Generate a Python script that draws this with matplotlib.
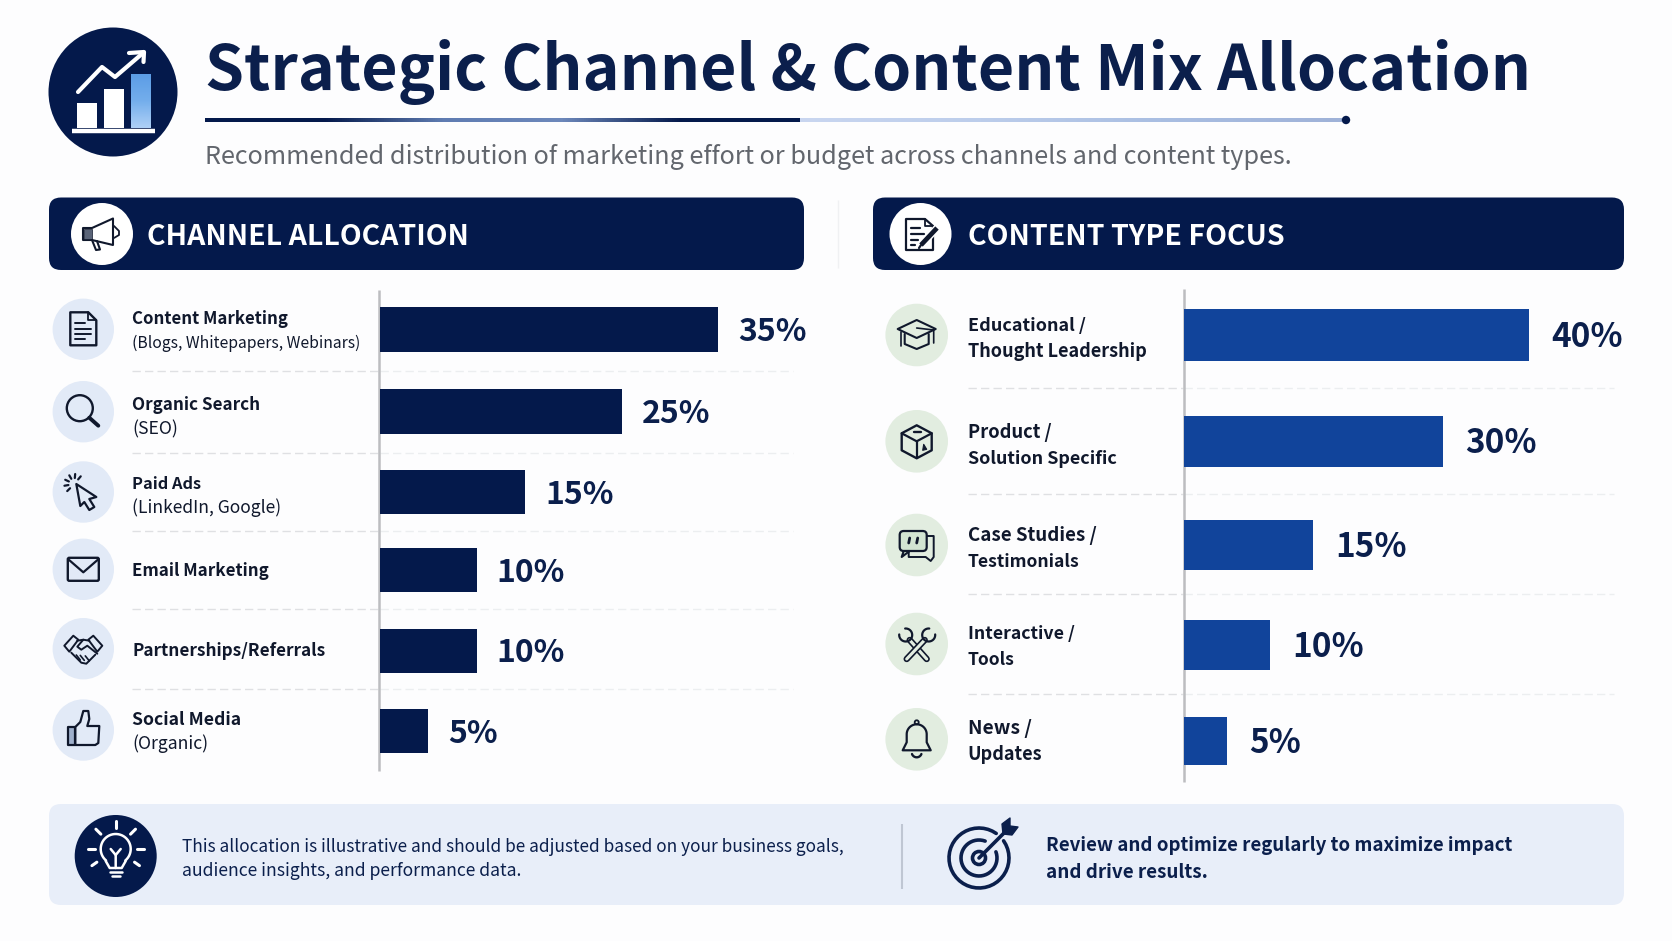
import numpy as np
import matplotlib
matplotlib.use("Agg")
import matplotlib.pyplot as plt
from matplotlib.patches import Circle, FancyBboxPatch, Polygon, Rectangle
from matplotlib.colors import LinearSegmentedColormap

# Data
channel_names = ["Content Marketing", "Organic Search", "Paid Ads", "Email Marketing",
                 "Partnerships/Referrals", "Social Media"]
channel_notes = ["(Blogs, Whitepapers, Webinars)", "(SEO)", "(LinkedIn, Google)", "", "", "(Organic)"]
channel_values = [35, 25, 15, 10, 10, 5]

content_line1 = ["Educational /", "Product /", "Case Studies /", "Interactive /", "News /"]
content_line2 = ["Thought Leadership", "Solution Specific", "Testimonials", "Tools", "Updates"]
content_values = [40, 30, 15, 10, 5]

TITLE = "Strategic Channel & Content Mix Allocation"
SUBTITLE = "Recommended distribution of marketing effort or budget across channels and content types."
NOTE_1 = "This allocation is illustrative and should be adjusted based on your business goals,"
NOTE_2 = "audience insights, and performance data."
TIP_1 = "Review and optimize regularly to maximize impact"
TIP_2 = "and drive results."

# Layout, in figure pixels
W, H = 1672, 941
channel_rows = [329.5, 411, 492, 570, 650.5, 731]
content_rows = [334.7, 441, 545, 645, 740.5]

NAVY = "#04194b"
INK = "#0b1f4c"
BLUE = "#11449b"
DARK = "#10182c"
plt.rcParams["font.family"] = ["Noto Sans CJK JP", "DejaVu Sans"]

fig = plt.figure(figsize=(W / 100, H / 100), dpi=100, facecolor="#fdfdfe")
ax = fig.add_axes([0, 0, 1, 1])
ax.set_xlim(0, W)
ax.set_ylim(H, 0)
ax.axis("off")
renderer = fig.canvas.get_renderer()


def label(x, base, s, width=None, size=14, weight="bold", color=DARK):
    t = ax.text(x, base, s, fontsize=size, fontweight=weight, color=color,
                va="baseline", ha="left", zorder=6)
    if width:
        t.set_fontsize(size * width / t.get_window_extent(renderer).width)
    return t


def line(pts, ox=0, oy=0, color=DARK, lw=1.5, z=5, cap="round"):
    p = np.array(pts, float)
    ax.plot(p[:, 0] + ox, p[:, 1] + oy, color=color, lw=lw, zorder=z,
            solid_capstyle=cap, solid_joinstyle="round")


def dashes(x0, x1, y, color):
    line([(x0, y), (x1, y)], color=color, lw=1, cap="butt", z=1.5)
    ax.lines[-1].set_dashes((6, 3))


def arc(cx, cy, r, a0, a1, n=40):
    a = np.radians(np.linspace(a0, a1, n))
    return np.column_stack([cx + r * np.cos(a), cy + r * np.sin(a)])


def ring(cx, cy, r, color=DARK, lw=1.5, face="none", z=5):
    ax.add_patch(Circle((cx, cy), r, fc=face, ec=color, lw=lw, zorder=z))


def poly(pts, ox=0, oy=0, fc="none", ec=DARK, lw=1.5, z=5):
    p = np.array(pts, float) + [ox, oy]
    ax.add_patch(Polygon(p, closed=True, fc=fc, ec=ec, lw=lw, zorder=z, joinstyle="round"))


def panel(x0, y0, x1, y1, r, color):
    ax.add_patch(FancyBboxPatch((x0 + r, y0 + r), x1 - x0 - 2 * r, y1 - y0 - 2 * r,
                                boxstyle=f"round,pad={r},rounding_size={r}",
                                fc=color, ec="none", zorder=1))


# Row icons
def icon_doc(x, y):
    poly([(-13, -17), (5, -17), (13, -9), (13, 16), (-13, 16)], x, y, lw=1.7)
    line([(5, -17), (5, -9), (13, -9)], x, y, lw=1.3)
    for dy, x1 in [(-6, 2), (0, 8), (5, 8), (10, 2)]:
        line([(-8, dy), (x1, dy)], x, y, lw=1.4)


def icon_search(x, y):
    ring(x - 3.5, y - 3.5, 13, lw=1.7)
    line([(6, 6), (15, 14)], x, y, lw=2.8)


def icon_cursor(x, y):
    poly([(-7, -8), (13, 5), (6, 7), (11, 15), (6, 18), (1, 10), (-3, 14)], x, y, lw=1.6)
    for a in (135, 170, 205, 240, 275, 310):
        s = arc(-9, -8, 6, a, a, 1)[0]
        e = arc(-9, -8, 10, a, a, 1)[0]
        line([s, e], x, y, lw=1.6)


def icon_mail(x, y):
    ax.add_patch(FancyBboxPatch((x - 15.5, y - 11.5), 31, 23, boxstyle="round,pad=0,rounding_size=1.5",
                                fc="none", ec=DARK, lw=1.7, zorder=5))
    line([(-15, -10), (0, 3), (15, -10)], x, y, lw=1.6)


def icon_hands(x, y):
    poly([(-19, -3), (-10, -13), (-5, -9), (-14, 3)], x, y, lw=1.4)
    poly([(19, -3), (10, -13), (5, -9), (14, 3)], x, y, lw=1.4)
    line([(-6, -8), (0, -9), (6, -8)], x, y, lw=1.4)
    line([(0, -9), (-6, -2), (-2, 1), (4, -3), (14, 5)], x, y, lw=1.4)
    line([(-12, 4), (-2, 14), (3, 15), (12, 6)], x, y, lw=1.4)
    for dx in (-7, -3, 2):
        line([(dx, 7 + dx * 0.1), (dx + 4, 12 + dx * 0.1)], x, y, lw=1.2)


def icon_thumb(x, y):
    poly([(-15, -3), (-8, -3), (-8, 15), (-15, 15)], x, y, fc="#9fb0cc", lw=1.6)
    poly([(-8, -3), (-3, -8), (0, -19), (5, -19), (6, -11), (4, -4), (16, -4), (15, 13),
          (12, 15), (-8, 15)], x, y, lw=1.6)


def icon_cap(x, y):
    poly([(-19, -6), (0, -15), (19, -6), (0, 3)], x, y, lw=1.5)
    line([(-12, -1), (-12, 9), (0, 14), (12, 9), (12, -1)], x, y, lw=1.5)
    line([(0, -7), (17, -5), (17, 8)], x, y, lw=1.2)
    line([(-16, -3), (-16, 11)], x, y, lw=1.2)


def icon_box(x, y):
    poly([(0, -16), (15, -8), (15, 9), (0, 17), (-15, 9), (-15, -8)], x, y, lw=1.7)
    line([(-15, -8), (0, 0), (15, -8)], x, y, lw=1.6)
    line([(0, 0), (0, 17)], x, y, lw=1.6)
    line([(-3, -9), (4, -9)], x, y, lw=1.7)
    poly([(7, 3), (10, 8), (6, 9)], x, y, fc=DARK, lw=0.8)


def icon_chat(x, y):
    poly([(3, -9), (17, -9), (17, 12), (14, 16), (9, 12), (-8, 12), (-8, 7)], x, y, lw=1.4)
    ax.add_patch(FancyBboxPatch((x - 17, y - 14), 27, 20, boxstyle="round,pad=0,rounding_size=4",
                                fc="#d2e4d2", ec=DARK, lw=1.6, zorder=5))
    poly([(-13, 6), (-15, 12), (-7, 6)], x, y, fc="#d2e4d2", lw=1.5, z=6)
    for dx in (-7, 1):
        line([(dx, -7), (dx - 1, -2)], x, y, lw=2, z=7)


def icon_tools(x, y):
    line([(-10, 15), (8, -4)], x, y, color=DARK, lw=4.6)
    line([(-10, 15), (8, -4)], x, y, color="#e3ede1", lw=2.2)
    line([(10, 15), (-7, -4)], x, y, color=DARK, lw=4.6, z=4)
    line([(10, 15), (-7, -4)], x, y, color="#e3ede1", lw=2.2, z=4)
    line(arc(-11, -9, 6.5, 265, 545), x, y, lw=1.6, z=6)
    line(arc(12, -9, 6.5, 355, 635), x, y, lw=1.6, z=6)


def icon_bell(x, y):
    pts = [(-14, 11), (-10, 3), (-10, -5)] + list(arc(0, -5, 10, 180, 360)) + [(10, 3), (14, 11)]
    poly(pts, x, y, lw=1.6)
    ring(x, y - 17, 2, lw=1.3)
    line(arc(0, 13, 5, 20, 160), x, y, lw=1.7)


# Title block
ax.add_patch(Circle((113, 92), 64.5, fc=NAVY, ec="none", zorder=2))
for x0, x1, top in [(76.5, 97, 103), (104, 124, 89)]:
    ax.add_patch(Rectangle((x0, top), x1 - x0, 128 - top, fc="white", ec="none", zorder=3))
bar_fade = LinearSegmentedColormap.from_list("fade", ["#5c9de6", "#74aeec", "#aed0f6"])
ax.imshow(np.linspace(0, 1, 64)[:, None], extent=(131, 150.5, 128, 74), cmap=bar_fade,
          aspect="auto", zorder=3)
line([(72, 130.5), (155, 130.5)], color="white", lw=3.2, cap="butt")
line([(78, 92), (102, 67), (115, 77), (143, 53)], color="white", lw=3)
line([(129, 53), (144, 52), (143.5, 62)], color="white", lw=3)

label(205, 89.5, TITLE, width=1325, size=50, color=INK)
rule_head = LinearSegmentedColormap.from_list("rule_head", [NAVY, NAVY, "#5f7cb2", "#6d88bb", NAVY, NAVY])
rule_tail = LinearSegmentedColormap.from_list("rule_tail", ["#c9d6f0", "#bccdeb", "#a9bee2", "#9fb2d8"])
ax.imshow(np.linspace(0, 1, 512)[None, :], extent=(205, 800, 121.6, 118.4), cmap=rule_head,
          aspect="auto", zorder=3)
ax.imshow(np.linspace(0, 1, 256)[None, :], extent=(800, 1342, 121.6, 118.4), cmap=rule_tail,
          aspect="auto", zorder=3)
ax.set_xlim(0, W)
ax.set_ylim(H, 0)
ax.add_patch(Circle((1346, 120), 4.2, fc=NAVY, ec="none", zorder=4))
label(205, 164, SUBTITLE, width=1087, size=20, weight="normal", color="#62666d")

# Panel headers
panel(49, 197.5, 804, 270, 12, NAVY)
panel(873, 197.5, 1624, 270, 12, NAVY)
line([(838, 200), (838, 268)], color="#f0f1f3", lw=1, cap="butt")
ax.add_patch(Circle((102, 234), 31, fc="white", ec="none", zorder=3))
ax.add_patch(Circle((920.5, 234), 31, fc="white", ec="none", zorder=3))
label(147, 245, "CHANNEL ALLOCATION", width=321, size=20, color="white")
label(968, 245, "CONTENT TYPE FOCUS", width=317, size=20, color="white")

# Megaphone
poly([(83, 228), (92, 228), (113, 218.5), (113, 245), (92, 240), (83, 240)], fc="white", lw=1.5)
poly([(84, 229), (92, 229), (92, 239), (84, 239)], fc="#5a6478", lw=0.5)
line([(92, 240), (96, 250), (100, 249.5), (97, 241)], lw=1.5)
line([(114, 226), (119, 231), (119, 235), (114, 238)], lw=1.3)

# Document with pencil
poly([(906, 219), (925, 219), (933, 226), (933, 250), (906, 250)], lw=1.6)
line([(925, 219), (925, 226), (933, 226)], lw=1.3)
for y1, x2 in [(228, 920), (234, 924), (240, 918), (245, 915)]:
    line([(911, y1), (x2, y1)], lw=1.6)
line([(921, 245), (937, 228)], color="white", lw=5.5, cap="butt", z=5.5)
line([(921, 245), (937, 228)], lw=3.4, cap="butt", z=6)
line([(919, 248), (921, 245)], lw=1.6, z=6)

# Channel rows
channel_icons = [icon_doc, icon_search, icon_cursor, icon_mail, icon_hands, icon_thumb]
channel_circles = [329.3, 411.7, 492, 569.3, 648.7, 730]
name_widths = [156, 128, 69, 137, 193, 109]
note_widths = [228, 46, 149, 0, 0, 76]
name_bases = [324.3, 410, 488.5, 576.5, 655.5, 725]
note_bases = [347.5, 434, 513, 0, 0, 749]
for i, (name, note) in enumerate(zip(channel_names, channel_notes)):
    ax.add_patch(Circle((83.3, channel_circles[i]), 30.7, fc="#e2eaf7", ec="none", zorder=2))
    channel_icons[i](83.3, channel_circles[i])
    label(132, name_bases[i], name, width=name_widths[i], size=13)
    if note:
        label(132, note_bases[i], note, width=note_widths[i], size=13, weight="normal")
for y in [370.7, 453, 531, 608.7, 688.7]:
    dashes(132, 379, y, "#dfe0e3")
    dashes(380, 793, y, "#eceef0")

# Content rows
content_icons = [icon_cap, icon_box, icon_chat, icon_tools, icon_bell]
content_circles = [335, 441.3, 545, 644, 739.3]
line1_widths = [118, 84, 129, 107, 64]
line2_widths = [179, 150, 112, 47, 75]
line1_bases = [331, 438, 541, 639.5, 734.5]
line2_bases = [357, 464, 567, 665, 760]
for i in range(len(content_values)):
    ax.add_patch(Circle((916.7, content_circles[i]), 31.3, fc="#e2ede0", ec="none", zorder=2))
    content_icons[i](916.7, content_circles[i])
    label(967.5, line1_bases[i], content_line1[i], width=line1_widths[i], size=13)
    label(967.5, line2_bases[i], content_line2[i], width=line2_widths[i], size=13)
for y in [388, 494, 593.7, 694]:
    dashes(968, 1183, y, "#dfe0e3")
    dashes(1184, 1614, y, "#eceef0")


# Bar charts share the figure's pixel rows and use a percentage scale across
def bars(x0, px_per_pct, rows, values, height, color, gap_px, font):
    top = fig.add_axes([x0 / W, 0, 45 * px_per_pct / W, 1], facecolor="none")
    top.set_xlim(0, 45)
    top.set_ylim(H, 0)
    top.axis("off")
    for y, v, h in zip(rows, values, height):
        top.barh(y, v, height=h, color=color, zorder=3)
        top.annotate(f"{v}%", xy=(v, y), xytext=(gap_px * 0.72, -font * 0.365), textcoords="offset points",
                     fontsize=font, fontweight="bold", color=INK, va="baseline", ha="left")
    return top


bars(380, 9.66, channel_rows, channel_values, [45, 45, 44.5, 44, 44, 44.5], NAVY, 20, 23)
bars(1184, 8.63, content_rows, content_values, [52, 51, 50, 50, 48], BLUE, 22, 24)
line([(379, 290), (379, 771)], color="#bcbdc0", lw=1.8, cap="butt", z=8)
line([(1183.7, 289), (1183.7, 782)], color="#bcbdc0", lw=1.8, cap="butt", z=8)

# Footer
panel(49, 804, 1624, 905, 12, "#e8eef9")
ax.add_patch(Circle((115.7, 856), 41, fc=NAVY, ec="none", zorder=2))
bx, by = 115.7, 852
W2 = "white"
line(list(arc(0, -3, 15, 130, 410)), bx, by, color=W2, lw=1.8)
line([(-10, 9), (-6, 16), (6, 16), (10, 9)], bx, by, color=W2, lw=1.8)
line([(-6, 20), (6, 20)], bx, by, color=W2, lw=1.8)
line([(-4, 24), (4, 24)], bx, by, color=W2, lw=1.8)
line([(0, 16), (0, 3), (-5, -3)], bx, by, color=W2, lw=1.8)
line([(0, 3), (5, -3)], bx, by, color=W2, lw=1.8)
for a in range(180, 361, 45):
    s = arc(0, -3, 21, a, a, 1)[0]
    e = arc(0, -3, 28, a, a, 1)[0]
    line([s, e], bx, by, color=W2, lw=2.2)
for a in (35, 145):
    s = arc(0, -3, 23, a, a, 1)[0]
    e = arc(0, -3, 29, a, a, 1)[0]
    line([s, e], bx, by, color=W2, lw=2.2)
label(182, 851.5, NOTE_1, width=661, size=14, weight="normal", color=INK)
label(182, 876.5, NOTE_2, width=340, size=14, weight="normal", color=INK)
line([(901.7, 824), (901.7, 889)], color="#bfc6d3", lw=1.5, cap="butt")

tx, ty = 979, 858
line(list(arc(tx, ty, 30, -35, 305)), color=INK, lw=2.6)
line(list(arc(tx, ty, 18, -20, 290)), color=INK, lw=2.6)
ring(tx, ty, 6.5, color=INK, lw=2.6)
line([(tx, ty), (tx + 27, ty - 27)], color=INK, lw=2.6)
poly([(tx + 24, ty - 24), (tx + 23, ty - 34), (tx + 31, ty - 40), (tx + 31, ty - 32),
      (tx + 39, ty - 31), (tx + 33, ty - 23)], fc=INK, ec=INK, lw=1)
label(1046, 851, TIP_1, width=467, size=14, color=INK)
label(1046, 878, TIP_2, width=162, size=14, color=INK)

fig.savefig("out.png", dpi=100, facecolor=fig.get_facecolor())
